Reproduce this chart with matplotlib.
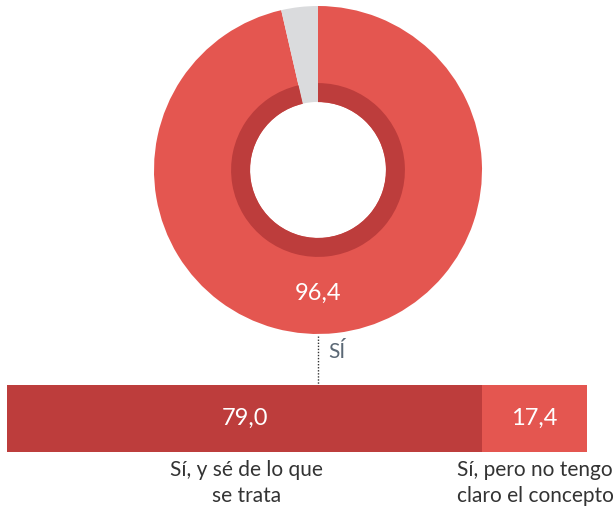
import matplotlib.pyplot as plt
from matplotlib.lines import Line2D

# donut: "conoce el concepto?"
donut_labels = ['Sí', 'No']
donut_values = [96.4, 3.6]

# desglose del "Sí"
bar_labels = ['Sí, y sé de lo que\nse trata', 'Sí, pero no tengo\nclaro el concepto']
bar_values = [79.0, 17.4]

red = '#E45650'
dark_red = '#BD3D3C'
grey = '#DADBDD'
plt.rcParams['font.family'] = ['Lato', 'DejaVu Sans']

fig = plt.figure(figsize=(6.14, 5.15), dpi=100)

# donut
ax = fig.add_axes([154/614, 1 - 334/515, 328/614, 328/515])
ax.pie(donut_values, colors=[red, grey], startangle=90, counterclock=False,
       radius=1, wedgeprops=dict(width=0.585, linewidth=0))
# darker inner ring only under the red part
ax.pie(donut_values, colors=[dark_red, 'none'], startangle=90, counterclock=False,
       radius=0.53, wedgeprops=dict(width=0.116, linewidth=0))
ax.set_xlim(-1, 1)
ax.set_ylim(-1, 1)
ax.set_aspect('equal')
ax.axis('off')
ax.text(0, -0.75, f'{donut_values[0]:.1f}'.replace('.', ','), color='white',
        fontsize=17, ha='center', va='center')

# stacked bar
axb = fig.add_axes([7/614, 1 - 452/515, 580/614, 67/515])
left = 0
for val, col in zip(bar_values, [dark_red, red]):
    axb.barh(0, val, left=left, height=1, color=col, linewidth=0)
    axb.text(left + val / 2, 0, f'{val:.1f}'.replace('.', ','), color='white',
             fontsize=17, ha='center', va='center')
    left += val
axb.set_xlim(0, sum(bar_values))
axb.set_ylim(-0.5, 0.5)
axb.axis('off')

# category labels under the bar
axb.text(bar_values[0] * 0.5 + 0.3, -0.62, bar_labels[0], fontsize=15, color='#333333',
         ha='center', va='top', linespacing=1.35)
axb.text(bar_values[0] + bar_values[1] * 0.5 + 0.1, -0.62, bar_labels[1], fontsize=15,
         color='#333333', ha='center', va='top', linespacing=1.35, clip_on=False)

# connector
fig.add_artist(Line2D([318/614, 318/614], [1 - 336/515, 1 - 385/515],
                      color='#333333', linestyle=(0, (1, 1.2)), linewidth=1))
fig.text(328/614, 1 - 352/515, 'SÍ', color='#5B6875', fontsize=15, va='center', ha='left')

fig.savefig('out.png', dpi=100)
